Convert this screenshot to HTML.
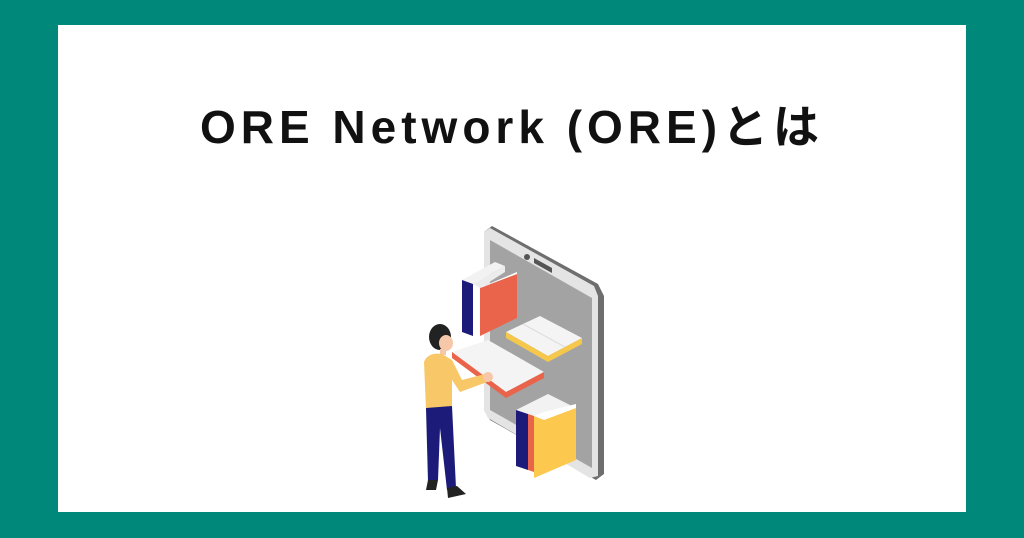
<!DOCTYPE html>
<html><head><meta charset="utf-8"><style>
body{margin:0;width:1024px;height:538px;background:#00897a;overflow:hidden;position:relative;font-family:"Liberation Sans","Noto Sans CJK JP",sans-serif}
.panel{position:absolute;left:58px;top:25px;width:908px;height:487px;background:#fff}
h1{position:absolute;left:0;width:1024px;top:97px;margin:0;text-align:center;font-size:46px;letter-spacing:5px;font-weight:bold;color:#111;line-height:60px}
svg{position:absolute;left:0;top:0}
</style></head><body>
<div class="panel"></div>
<h1>ORE Network (ORE)とは</h1>
<svg width="1024" height="538" viewBox="0 0 1024 538">
<polygon points="484,232 492,226 598,284 604,296 604,474 596,480 490,420 484,410" fill="#6e6e6e"/>
<polygon points="484,232 490,228 594,286 598,296 598,476 590,478 488,418 484,410" fill="#e4e4e4"/>
<polygon points="490,240 592,298 592,468 490,410" fill="#a3a3a3"/>
<circle cx="527" cy="257" r="3" fill="#555"/>
<polygon points="534,258 552,268 552,273 534,263" fill="#555"/>
<polygon points="462,280 495,262 505,266 473,284" fill="#f2f2f2"/>
<polygon points="462,280 473,284 473,336 462,332" fill="#1c1b7a"/>
<polygon points="473,284 505,266 505,272 480,288" fill="#ececec"/>
<polygon points="480,288 517,274 517,318 480,336" fill="#e9644a"/>
<polygon points="480,288 484,286 517,272 517,274" fill="#fff"/>
<polygon points="506,332 540,316 582,338 548,356" fill="#f4f4f4"/>
<polygon points="506,332 548,356 548,362 506,338" fill="#f5c84c"/>
<polygon points="548,356 582,338 582,344 548,362" fill="#f5c84c"/>
<line x1="523" y1="324" x2="565" y2="347" stroke="#ddd" stroke-width="1"/>
<polygon points="452,352 488,340 544,372 506,392" fill="#f4f4f4"/>
<polygon points="452,352 506,392 506,398 452,358" fill="#e9644a"/>
<polygon points="506,392 544,372 544,378 506,398" fill="#e9644a"/>
<polygon points="516,410 548,394 576,408 544,424" fill="#f2f2f2"/>
<polygon points="516,410 528,414 528,470 516,466" fill="#1c1b7a"/>
<polygon points="528,414 534,416 534,472 528,470" fill="#e9644a"/>
<polygon points="534,416 576,404 576,460 534,478" fill="#fcc84e"/>
<polygon points="534,416 544,412 576,404 576,408 544,420" fill="#fff"/>
<ellipse cx="440" cy="337" rx="11" ry="13" fill="#222"/>
<ellipse cx="446" cy="343" rx="7" ry="8" fill="#f6c7a8"/>
<rect x="440" y="349" width="6" height="6" fill="#f6c7a8"/>
<path d="M424,362 Q428,352 442,354 L452,360 L462,380 L485,374 L487,382 L460,392 L452,380 L452,408 L426,410 Z" fill="#f8c868"/>
<circle cx="488" cy="377" r="5" fill="#f6c7a8"/>
<path d="M426,408 L452,406 L456,488 L447,490 L440,428 L438,480 L428,482 Z" fill="#1c1b7a"/>
<path d="M428,480 L438,480 L436,490 L426,490 Z" fill="#222"/>
<path d="M447,488 L457,486 L466,494 L448,498 Z" fill="#222"/>
</svg>
</body></html>
